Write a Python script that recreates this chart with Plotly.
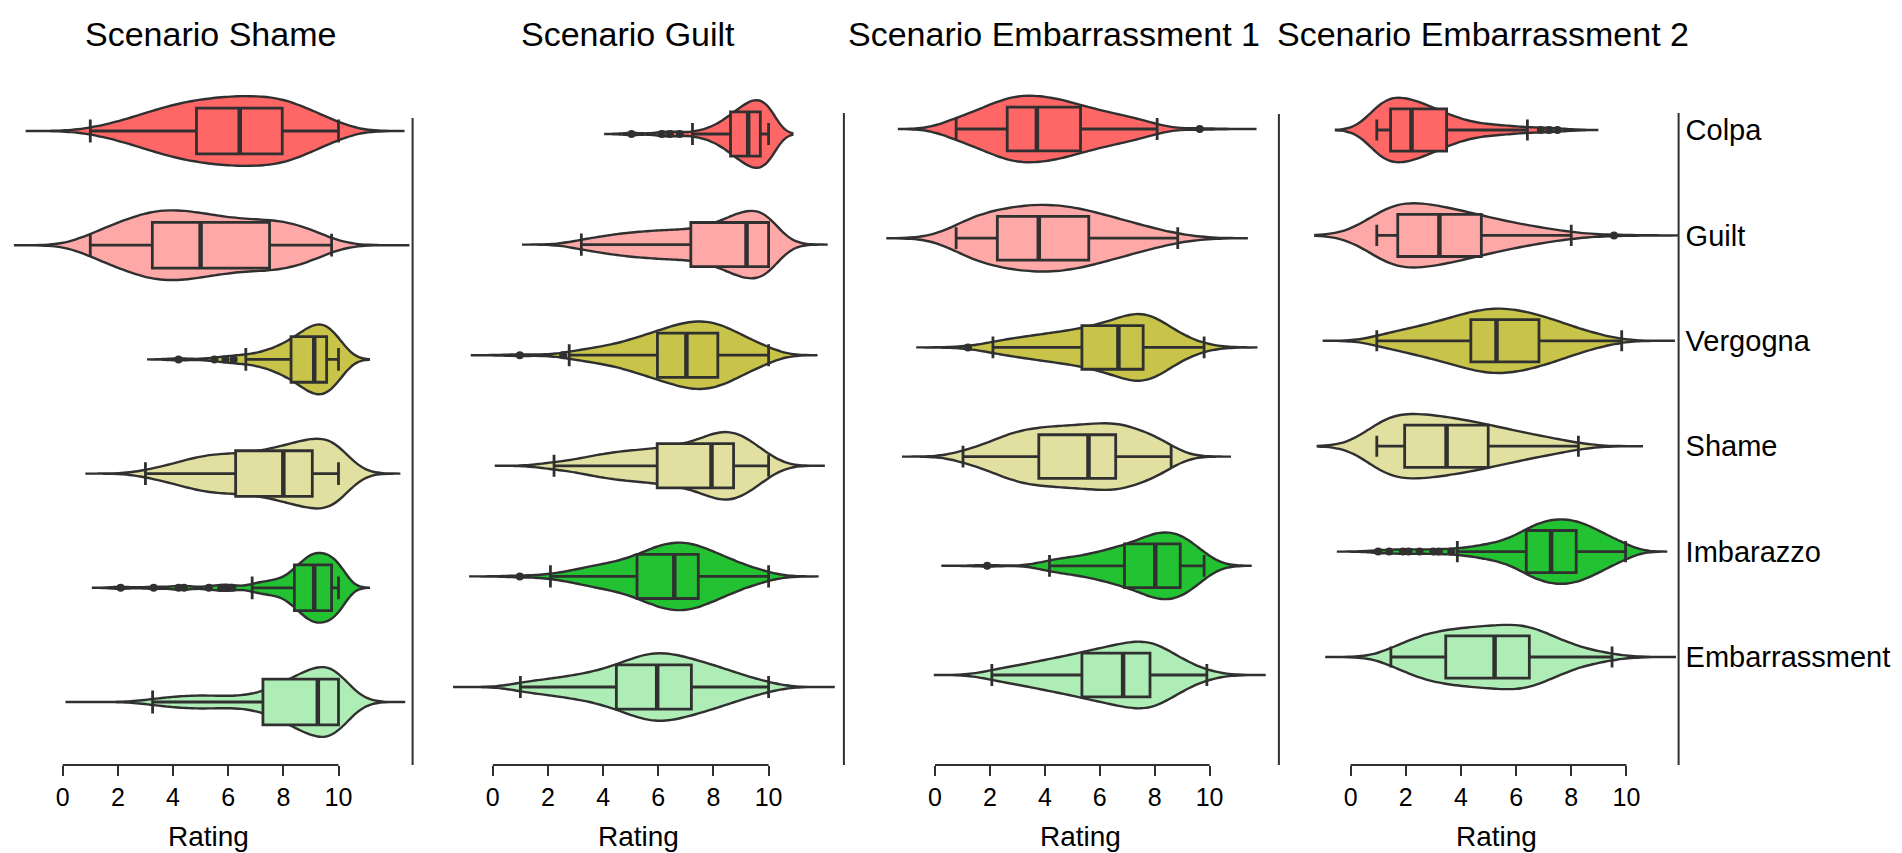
import plotly.graph_objects as go

# ratings are kept as counts over a half-point grid, plus the single outlying values
rating_levels = [0, 0.5, 1, 1.5, 2, 2.5, 3, 3.5, 4, 4.5, 5, 5.5, 6, 6.5, 7, 7.5, 8, 8.5, 9, 9.5, 10]

emotions = ["Colpa", "Guilt", "Vergogna", "Shame", "Imbarazzo", "Embarrassment"]
scenarios = ["Scenario Shame", "Scenario Guilt", "Scenario Embarrassment 1", "Scenario Embarrassment 2"]
colors = ["#ff6666", "#ffa8a8", "#c8c44a", "#e2e0a0", "#22c233", "#aeeeb6"]

counts_shame = [
    [0, 0, 2, 3, 5, 8, 10, 13, 15, 17, 18, 19, 20, 20, 20, 20, 19, 16, 12, 8, 6],
    [0, 0, 8, 9, 12, 16, 18, 20, 20, 19, 18, 16, 15, 14, 14, 14, 14, 12, 9, 6, 0],
    [0, 0, 0, 0, 0, 0, 0, 0, 0, 0, 0, 0, 0, 2, 3, 5, 8, 12, 18, 20, 12],
    [0, 0, 0, 0, 0, 0, 2, 3, 5, 7, 9, 10, 10, 10, 11, 12, 14, 16, 18, 18, 22],
    [0, 0, 0, 0, 0, 0, 0, 0, 0, 0, 0, 0, 0, 0, 3, 4, 5, 12, 20, 20, 16],
    [0, 0, 0, 0, 0, 0, 1, 2, 3, 3, 4, 3, 3, 3, 4, 6, 10, 14, 18, 20, 24],
]
counts_guilt = [
    [0, 0, 0, 0, 0, 0, 0, 0, 0, 0, 0, 0, 0, 0, 0, 2, 4, 9, 15, 20, 18],
    [0, 0, 0, 0, 0, 0, 2, 3, 4, 5, 6, 6, 7, 7, 7, 8, 9, 13, 16, 17, 20],
    [0, 0, 0, 0, 0, 0, 2, 3, 4, 5, 7, 9, 11, 13, 15, 16, 15, 13, 9, 6, 4],
    [0, 0, 0, 0, 2, 2, 3, 5, 6, 7, 8, 8, 9, 10, 11, 13, 17, 19, 17, 11, 6],
    [0, 0, 0, 0, 1, 2, 3, 5, 6, 7, 9, 12, 15, 17, 17, 15, 12, 9, 6, 4, 2],
    [0, 0, 3, 3, 4, 5, 6, 7, 9, 11, 14, 17, 18, 17, 15, 13, 11, 9, 6, 4, 3],
]
counts_emb1 = [
    [0, 5, 6, 9, 12, 15, 17, 17, 16, 15, 13, 11, 9, 8, 6, 5, 3, 0, 0, 0, 0],
    [0, 0, 14, 12, 14, 16, 17, 18, 18, 18, 17, 15, 13, 11, 9, 7, 5, 3, 2, 0, 0],
    [0, 0, 0, 0, 3, 4, 5, 6, 7, 8, 9, 10, 12, 14, 17, 20, 17, 11, 6, 3, 1],
    [0, 0, 4, 5, 8, 12, 15, 16, 17, 17, 18, 18, 19, 20, 18, 15, 12, 9, 0, 0, 0],
    [0, 0, 0, 0, 0, 0, 0, 0, 3, 4, 5, 6, 8, 10, 12, 15, 19, 20, 18, 12, 4],
    [0, 0, 0, 0, 3, 4, 5, 7, 8, 10, 11, 13, 15, 16, 18, 20, 19, 14, 8, 5, 2],
]
counts_emb2 = [
    [0, 0, 20, 20, 19, 16, 13, 9, 6, 4, 3, 3, 2, 1, 0, 0, 0, 0, 0, 0, 0],
    [0, 0, 20, 21, 20, 18, 17, 16, 14, 12, 10, 8, 7, 5, 4, 3, 2, 0, 0, 0, 0],
    [0, 0, 4, 5, 7, 9, 11, 13, 16, 18, 20, 20, 19, 17, 15, 12, 9, 6, 4, 2, 0],
    [0, 0, 22, 18, 18, 18, 17, 16, 15, 13, 12, 10, 8, 7, 5, 4, 3, 0, 0, 0, 0],
    [0, 0, 0, 0, 0, 0, 0, 0, 2, 3, 5, 6, 10, 15, 19, 20, 20, 17, 13, 8, 5],
    [0, 0, 0, 6, 9, 13, 15, 16, 17, 18, 18, 19, 20, 19, 15, 11, 7, 5, 3, 2, 0],
]

outliers_shame = [[], [], [4.2, 5.5, 5.9, 6.2], [], [2.1, 3.3, 4.2, 4.4, 5.3, 5.75, 5.95, 6.15], []]
outliers_guilt = [[5.03, 6.12, 6.42, 6.78], [], [0.98, 2.55], [], [0.98], []]
outliers_emb1 = [[9.64], [], [1.2], [], [1.9], []]
outliers_emb2 = [[6.9, 7.2, 7.5], [9.55], [], [], [1.0, 1.4, 1.9, 2.1, 2.5, 3.0, 3.2, 3.65], []]

# box statistics, one row per scenario, one value per emotion
whisker_low = [
    [1.0, 1.0, 6.64, 3.0, 6.87, 3.26],
    [7.24, 3.21, 2.77, 2.22, 2.09, 1.0],
    [0.77, 0.77, 2.11, 1.02, 4.17, 2.07],
    [0.95, 0.95, 0.95, 0.95, 3.87, 1.46],
]
q1 = [
    [4.85, 3.25, 8.28, 6.27, 8.4, 7.26],
    [8.62, 7.18, 5.97, 5.96, 5.23, 4.48],
    [2.63, 2.27, 5.35, 3.78, 6.9, 5.35],
    [1.45, 1.71, 4.36, 1.96, 6.37, 3.45],
]
median = [
    [6.42, 5.0, 9.12, 8.0, 9.12, 9.25],
    [9.26, 9.2, 7.02, 7.93, 6.58, 5.96],
    [3.71, 3.78, 6.68, 5.59, 8.02, 6.85],
    [2.21, 3.22, 5.29, 3.48, 7.27, 5.22],
]
q3 = [
    [7.96, 7.5, 9.57, 9.05, 9.75, 10.0],
    [9.7, 10.0, 8.16, 8.73, 7.45, 7.2],
    [5.3, 5.6, 7.58, 6.58, 8.93, 7.83],
    [3.48, 4.74, 6.83, 4.99, 8.18, 6.48],
]
whisker_high = [
    [10.0, 9.75, 10.0, 10.0, 10.0, 10.0],
    [10.0, 10.0, 10.0, 10.0, 10.0, 10.0],
    [8.09, 8.84, 9.8, 8.6, 9.8, 9.9],
    [6.41, 8.0, 9.83, 8.26, 9.97, 9.48],
]

# where each violin's density tails off, and its kernel bandwidth
span_low = [
    [-1.3, -1.77, 3.1, 0.82, 1.1, 0.1],
    [4.08, 1.06, -0.8, 0.07, -0.86, -1.44],
    [-1.31, -1.73, -0.64, -1.2, 0.23, 0.0],
    [-0.53, -1.28, -0.97, -1.19, -0.5, -0.92],
]
span_high = [
    [12.35, 12.57, 11.1, 12.2, 11.1, 12.42],
    [10.86, 12.1, 11.73, 12.04, 11.77, 12.4],
    [11.71, 11.35, 11.7, 10.78, 11.49, 12.0],
    [8.94, 11.85, 11.76, 10.56, 11.44, 11.8],
]
bandwidth = [
    [0.7, 0.75, 0.4, 0.6, 0.35, 0.6],
    [0.35, 0.55, 0.55, 0.55, 0.55, 0.6],
    [0.6, 0.85, 0.6, 0.6, 0.5, 0.6],
    [0.55, 0.9, 0.6, 0.8, 0.45, 0.65],
]

counts = [counts_shame, counts_guilt, counts_emb1, counts_emb2]
outliers = [outliers_shame, outliers_guilt, outliers_emb1, outliers_emb2]

# page geometry (pixels): rating 0 position, px per rating point, left/right edge,
# first row centre, row spacing, top of the right spine
W, H = 1902, 853
AXIS_Y = 757
PLOT_TOP = 70
panels = [
    dict(x0=54.7, ppu=27.58, left=3, right=404.6, r0=123, step=114.2, top=110, title_x=202),
    dict(x0=484.8, ppu=27.58, left=410, right=835.9, r0=126, step=110.6, top=105, title_x=620),
    dict(x0=927.0, ppu=27.46, left=845, right=1270.9, r0=121, step=109.2, top=106, title_x=1046),
    dict(x0=1342.6, ppu=27.58, left=1283, right=1670.6, r0=122, step=105.4, top=105, title_x=1475),
]

dark = "#303030"
font = "Liberation Sans, Arial, Helvetica, sans-serif"

fig = go.Figure()
layout = dict(shapes=[], annotations=[])

for p, g in enumerate(panels):
    xa = "x" if p == 0 else f"x{p + 1}"
    ya = "y" if p == 0 else f"y{p + 1}"

    for k in range(len(emotions)):
        samples = [v for v, c in zip(rating_levels, counts[p][k]) for _ in range(c)]
        samples += outliers[p][k]
        fig.add_trace(
            go.Violin(
                x=samples,
                y0=k,
                orientation="h",
                xaxis=xa,
                yaxis=ya,
                width=0.61,
                scalemode="width",
                spanmode="manual",
                span=[span_low[p][k], span_high[p][k]],
                bandwidth=bandwidth[p][k],
                fillcolor=colors[k],
                opacity=1,
                line=dict(color=dark, width=2.4),
                points=False,
                showlegend=False,
                hoverinfo="skip",
            )
        )

    for k in range(len(emotions)):
        fig.add_trace(
            go.Box(
                y=[k],
                q1=[q1[p][k]],
                median=[median[p][k]],
                q3=[q3[p][k]],
                lowerfence=[whisker_low[p][k]],
                upperfence=[whisker_high[p][k]],
                orientation="h",
                xaxis=xa,
                yaxis=ya,
                width=0.4,
                whiskerwidth=0.5,
                fillcolor=colors[k],
                line=dict(color=dark, width=2.8),
                boxpoints=False,
                showlegend=False,
                hoverinfo="skip",
            )
        )

    # thicker median bar, as in the original
    fig.add_trace(
        go.Scatter(
            x=median[p],
            y=list(range(len(emotions))),
            mode="markers",
            xaxis=xa,
            yaxis=ya,
            marker=dict(symbol="line-ns", size=0.4 * g["step"] / 1.4,
                        line=dict(color=dark, width=4.5)),
            showlegend=False,
            hoverinfo="skip",
        )
    )

    ox, oy = [], []
    for k in range(len(emotions)):
        ox += outliers[p][k]
        oy += [k] * len(outliers[p][k])
    fig.add_trace(
        go.Scatter(
            x=ox, y=oy, mode="markers", xaxis=xa, yaxis=ya,
            marker=dict(color=dark, size=8),
            showlegend=False, hoverinfo="skip",
        )
    )

    xname = "xaxis" if p == 0 else f"xaxis{p + 1}"
    yname = "yaxis" if p == 0 else f"yaxis{p + 1}"
    layout[xname] = dict(
        domain=[g["left"] / W, g["right"] / W],
        range=[(g["left"] - g["x0"]) / g["ppu"], (g["right"] - g["x0"]) / g["ppu"]],
        tickvals=[0, 2, 4, 6, 8, 10],
        ticks="outside", ticklen=10, tickwidth=2, tickcolor=dark,
        showline=False, showgrid=False, zeroline=False,
        tickfont=dict(size=25, color="black", family=font),
        anchor=ya,
    )
    layout[yname] = dict(
        domain=[1 - AXIS_Y / H, 1 - PLOT_TOP / H],
        range=[(AXIS_Y - g["r0"]) / g["step"], (PLOT_TOP - g["r0"]) / g["step"]],
        side="right",
        showline=False,
        showgrid=False, zeroline=False, ticks="",
        tickvals=list(range(len(emotions))), ticktext=emotions,
        showticklabels=(p == 3),
        ticklabelstandoff=6,
        tickfont=dict(size=29, color="black", family=font),
        anchor=xa,
    )
    # right spine, starting a little below the top violin
    layout["shapes"].append(dict(
        type="line", xref=f"{xa} domain", yref="paper", x0=1, x1=1,
        y0=1 - AXIS_Y / H, y1=1 - g["top"] / H,
        line=dict(color=dark, width=2),
    ))
    # trimmed bottom axis line (0..10 only)
    layout["shapes"].append(dict(
        type="line", xref=xa, yref=f"{ya} domain", x0=0, x1=10, y0=0, y1=0,
        line=dict(color=dark, width=2),
    ))
    layout["annotations"].append(dict(
        text=scenarios[p], xref="paper", yref="paper",
        x=g["title_x"] / W, y=1 - 26 / H, xanchor="center", yanchor="middle",
        showarrow=False, font=dict(size=34, color="black", family=font),
    ))
    layout["annotations"].append(dict(
        text="Rating", xref=xa, yref="paper", x=5.3, y=1 - 828 / H,
        xanchor="center", yanchor="middle",
        showarrow=False, font=dict(size=28, color="black", family=font),
    ))

fig.update_layout(
    width=W,
    height=H,
    margin=dict(l=0, r=0, t=0, b=0),
    paper_bgcolor="white",
    plot_bgcolor="white",
    violinmode="overlay",
    boxmode="overlay",
    font=dict(family=font, color="black"),
    **layout,
)

fig.write_html("out.html")
